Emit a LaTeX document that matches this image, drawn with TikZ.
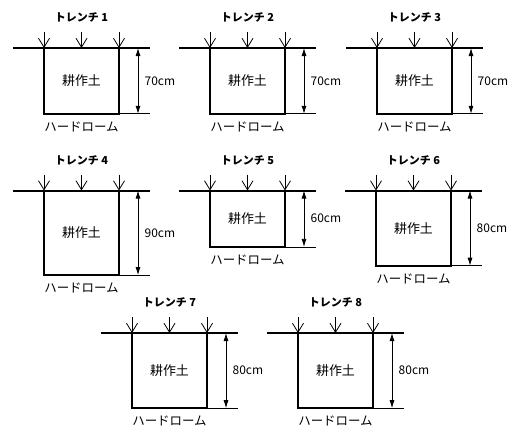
\documentclass[tikz,border=0pt]{standalone}
\usepackage{fontspec}
\setmainfont{Noto Sans CJK JP}
\usetikzlibrary{arrows.meta,calc,positioning}

\begin{document}
\begin{tikzpicture}[x=1bp,y=-1bp,
    pit/.style={minimum width=75bp, inner sep=0pt, outer sep=0pt,
        anchor=north west, font=\fontsize{13}{15}\selectfont},
    ground/.style={line width=2bp},
    wall/.style={line width=2.2bp, line join=miter},
    drop/.style={line width=0.8bp, -{Straight Barb[length=9bp,width=11bp]}},
    dim/.style={line width=0.8bp,
        {Latex[length=8bp,width=5bp]}-{Latex[length=8bp,width=5bp]}},
    trenchname/.style={font=\bfseries\fontsize{11}{13}\selectfont},
    depthtext/.style={font=\fontsize{12}{14}\selectfont},
    soiltext/.style={font=\fontsize{12.5}{14}\selectfont},
  ]
  \useasboundingbox (0,0) rectangle (521,430);

  \foreach \i/\x/\y/\d in {1/44/48/70, 2/210/48/70, 3/377/48/70,
      4/44/190.5/90, 5/210/190.5/60, 6/376/190.5/80,
      7/132/333/80, 8/298/333/80}{
    \node[pit, minimum height={\d*0.94bp}] (pit\i) at (\x,\y) {耕作土};
    \coordinate (gl\i) at ([xshift=-31bp]pit\i.north west);
    \coordinate (gr\i) at ([xshift=31bp]pit\i.north east);
    \coordinate (bt\i) at (pit\i.south east -| gr\i);
    \coordinate (dt\i) at ([xshift=19bp]pit\i.north east);
    \coordinate (db\i) at ([xshift=19bp]pit\i.south east);

    \draw[ground] (gl\i) -- (gr\i);
    \draw[wall] (pit\i.north west) -- (pit\i.south west)
        -- (pit\i.south east) -- (pit\i.north east);
    \draw[line width=0.8bp] (pit\i.south east) -- (bt\i);
    \draw[dim] (dt\i) -- node[depthtext, right=3bp] {\d cm} (db\i);

    \node[trenchname, above=22bp of pit\i.north] (name\i) {トレンチ \i};
    \node[soiltext, below=4.5bp of pit\i.south] (soil\i) {ハードローム};
    \foreach \a in {north west, north, north east}
      \draw[drop] ([yshift=16bp]pit\i.\a) -- (pit\i.\a);
  }
\end{tikzpicture}
\end{document}
